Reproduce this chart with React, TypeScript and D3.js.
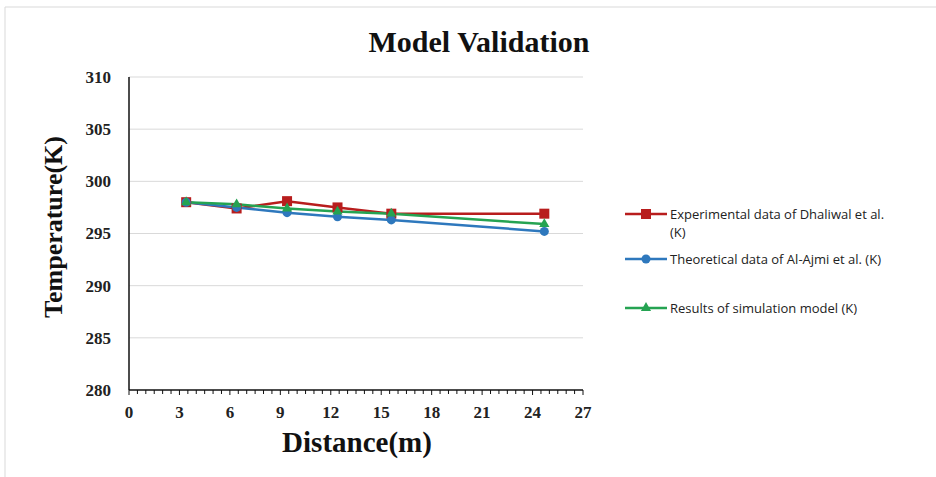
import React from 'react';
import * as d3 from 'd3';

// distances (m)
const distances = [3.4, 6.4, 9.4, 12.4, 15.6, 24.7];
const experimental = [298.0, 297.4, 298.1, 297.5, 296.9, 296.9];
const theoretical = [298.0, 297.5, 297.0, 296.6, 296.3, 295.2];
const simulation = [298.0, 297.8, 297.4, 297.1, 296.9, 295.9];

const yTicks = [280, 285, 290, 295, 300, 305, 310];
const xTicks = [0, 3, 6, 9, 12, 15, 18, 21, 24, 27];

const series = [
  { name: 'Experimental data of Dhaliwal et al.', name2: '(K)', values: experimental, color: '#b81d1d', marker: 'square' },
  { name: 'Theoretical data of Al-Ajmi et al. (K)', name2: '', values: theoretical, color: '#2e78bd', marker: 'circle' },
  { name: 'Results of simulation model (K)', name2: '', values: simulation, color: '#25a352', marker: 'triangle' },
];

const W = 936;
const H = 477;
const margin = { top: 77, right: 353, bottom: 87, left: 129 };

const serif = '"Liberation Serif", "Times New Roman", serif';

function Marker({ type, x, y, color }: { type: string; x: number; y: number; color: string }) {
  if (type === 'square') {
    return <rect x={x - 5} y={y - 5} width={10} height={10} fill={color} />;
  }
  if (type === 'circle') {
    return <circle cx={x} cy={y} r={4.5} fill={color} />;
  }
  const tri = d3.symbol(d3.symbolTriangle, 45)();
  return <path d={tri || ''} transform={`translate(${x},${y})`} fill={color} />;
}

export default function App() {
  const innerW = W - margin.left - margin.right;
  const innerH = H - margin.top - margin.bottom;

  const x = d3.scaleLinear().domain([0, 27]).range([margin.left, margin.left + innerW]);
  const y = d3.scaleLinear().domain([280, 310]).range([margin.top + innerH, margin.top]);

  const line = (vals: number[]) =>
    d3.line<number>()
      .x((_, i) => x(distances[i]))
      .y(d => y(d))(vals) || '';

  const minorTicks = d3.range(0, 27.01, 0.5);
  const legendRows = [214, 259, 308];

  return (
    <svg width={W} height={H} style={{ position: 'absolute', left: 0, top: 0, background: '#fff' }}>
      {/* outer frame */}
      <line x1={5} x2={W} y1={7} y2={7} stroke="#d9d9d9" />
      <line x1={5} x2={5} y1={7} y2={H} stroke="#d9d9d9" />

      <text x={479} y={52} textAnchor="middle" fontFamily={serif} fontWeight="bold" fontSize={30} fill="#111">
        Model Validation
      </text>

      {/* gridlines */}
      {yTicks.filter(t => t > 280).map(t => (
        <line key={t} x1={x(0)} x2={x(27)} y1={y(t)} y2={y(t)} stroke="#d9d9d9" strokeWidth={1} />
      ))}

      {/* axes */}
      <line x1={x(0)} x2={x(0)} y1={y(310)} y2={y(280)} stroke="#111" strokeWidth={1.5} />
      <line x1={x(0)} x2={x(27)} y1={y(280)} y2={y(280)} stroke="#111" strokeWidth={1.5} />
      {minorTicks.map(t => (
        <line key={t} x1={x(t)} x2={x(t)} y1={y(280)} y2={y(280) + (t % 3 === 0 ? 5 : 4)} stroke="#111" strokeWidth={1} />
      ))}

      {yTicks.map(t => (
        <text key={t} x={111} y={y(t)} dy="0.35em" textAnchor="end" fontFamily={serif} fontWeight="bold" fontSize={17} fill="#222">
          {t}
        </text>
      ))}
      {xTicks.map(t => (
        <text key={t} x={x(t)} y={418} textAnchor="middle" fontFamily={serif} fontWeight="bold" fontSize={17} fill="#222">
          {t}
        </text>
      ))}

      <text x={357} y={452} textAnchor="middle" fontFamily={serif} fontWeight="bold" fontSize={29} fill="#111">
        Distance(m)
      </text>
      <text transform="translate(62,227) rotate(-90)" textAnchor="middle" fontFamily={serif} fontWeight="bold" fontSize={26} fill="#111">
        Temperature(K)
      </text>

      {/* series */}
      {series.map(s => (
        <path key={s.name} d={line(s.values)} fill="none" stroke={s.color} strokeWidth={2.5} />
      ))}
      {series.map(s =>
        s.values.map((v, i) => (
          <Marker key={s.name + i} type={s.marker} x={x(distances[i])} y={y(v)} color={s.color} />
        ))
      )}

      {/* legend */}
      {series.map((s, i) => (
        <g key={s.name}>
          <line x1={625} x2={667} y1={legendRows[i]} y2={legendRows[i]} stroke={s.color} strokeWidth={2.5} />
          <Marker type={s.marker} x={646} y={legendRows[i]} color={s.color} />
          <text x={670} y={legendRows[i]} dy="0.35em" fontFamily='"Open Sans", sans-serif' fontSize={13} fill="#222">
            {s.name}
          </text>
          {s.name2 && (
            <text x={670} y={legendRows[i] + 18} dy="0.35em" fontFamily='"Open Sans", sans-serif' fontSize={13} fill="#222">
              {s.name2}
            </text>
          )}
        </g>
      ))}
    </svg>
  );
}
